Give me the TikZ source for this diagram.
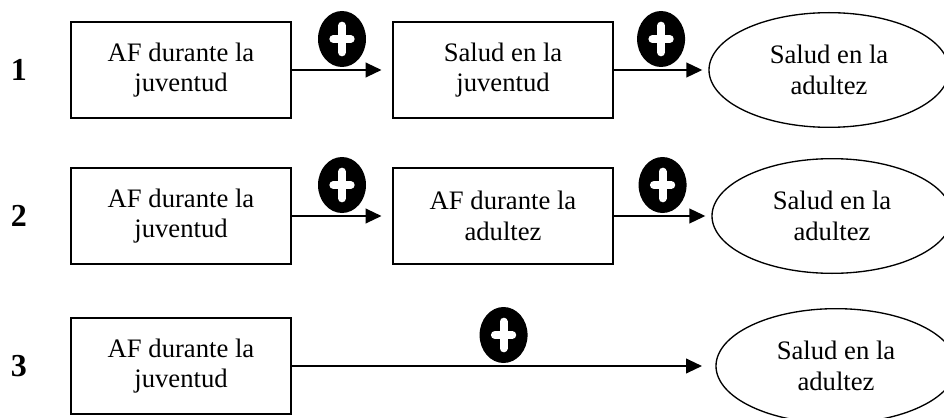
\documentclass[tikz,border=0pt]{standalone}
\usepackage{fontspec}
\setmainfont{Liberation Serif}
\usetikzlibrary{shapes.geometric,arrows.meta}

\tikzset{
	caja/.style={draw, line width=1.2pt, minimum width=165pt, minimum height=72pt, inner sep=0pt, align=center, font=\fontsize{20}{23}\selectfont},
	elipse/.style={draw, ellipse, line width=1pt, minimum width=180pt, minimum height=86pt, inner sep=0pt, align=center, font=\fontsize{20}{23}\selectfont},
	numero/.style={font=\fontsize{24}{28}\selectfont\bfseries},
	flecha/.style={-{Triangle[length=12pt,width=11pt]}, line width=1.5pt},
	masicon/.style={ellipse, draw=none, fill=black, minimum width=36pt, minimum height=42pt, inner sep=0pt,
		path picture={\draw[-, shorten >=0pt, shorten <=0pt, white, line width=6pt, line cap=round]
			([xshift=-6.5pt]path picture bounding box.center) -- ([xshift=6.5pt]path picture bounding box.center)
			([yshift=-10pt]path picture bounding box.center) -- ([yshift=10pt]path picture bounding box.center);}}
}

\begin{document}
\begin{tikzpicture}[x=0.75pt, y=-0.75pt]
	\useasboundingbox (0,0) rectangle (944,417);
	
	\node (N1) at (19,70) [numero] {1};
	\node (A1) at (181,70) [caja] {AF durante la\\juventud};
	\node (B1) at (503,70) [caja] {Salud en la\\juventud};
	\node (C1) at (829,70) [elipse] {Salud en la\\adultez};
	
	\node (N2) at (19,216) [numero] {2};
	\node (A2) at (181,216) [caja] {AF durante la\\juventud};
	\node (B2) at (503,216) [caja] {AF durante la\\adultez};
	\node (C2) at (832,216) [elipse] {Salud en la\\adultez};
	
	\node (N3) at (19,366) [numero] {3};
	\node (A3) at (181,366) [caja] {AF durante la\\juventud};
	\node (C3) at (836,366) [elipse] {Salud en la\\adultez};
	
	\draw [flecha, shorten >=8pt] (A1.east) -- (B1.west) node[midway, above=1.5pt, masicon] (M1) {};
	\draw [flecha, shorten >=4.5pt] (B1.east) -- (C1.west) node[midway, above=1.5pt, masicon] (M2) {};
	\draw [flecha, shorten >=8pt] (A2.east) -- (B2.west) node[midway, above=1.5pt, masicon] (M3) {};
	\draw [flecha, shorten >=4.5pt] (B2.east) -- (C2.west) node[midway, above=1.5pt, masicon] (M4) {};
	\draw [flecha, shorten >=10pt] (A3.east) -- (C3.west) node[midway, above=1.5pt, masicon] (M5) {};
\end{tikzpicture}
\end{document}
